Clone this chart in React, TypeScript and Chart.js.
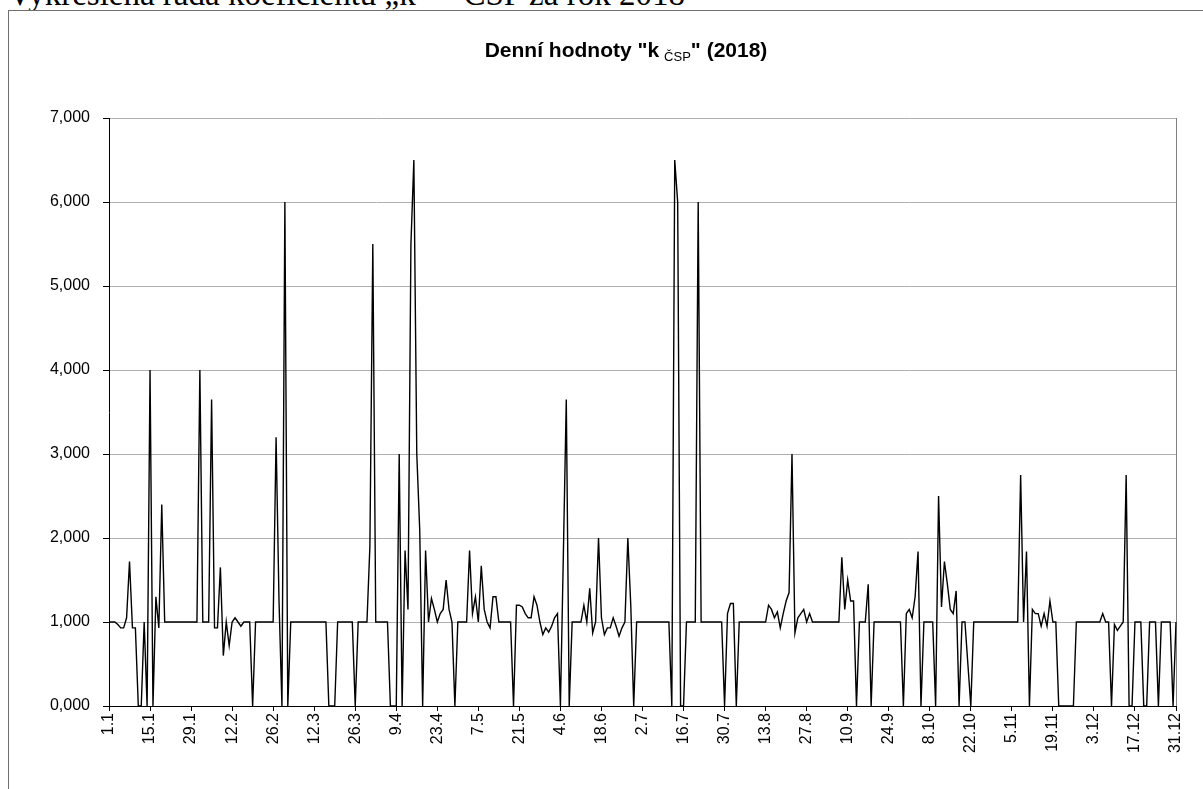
import React, { useEffect, useRef } from "react";
import { Chart, registerables } from "chart.js";

Chart.register(...registerables);

// ---- calendar / categories ----
const MONTH_LENGTHS = [31, 28, 31, 30, 31, 30, 31, 31, 30, 31, 30, 31];
const LABEL_STEP = 14;
const Y_MIN = 0;
const Y_MAX = 7;
const Y_STEP = 1;

// ---- daily values k_ČSP ----
const jan = [1, 1, 1, 0.97, 0.93, 0.93, 1.05, 1.72, 0.93, 0.93, 0, 0, 1, 0, 4.0, 0, 1.3, 0.93, 2.4, 1, 1, 1, 1, 1, 1, 1, 1, 1, 1, 1, 1];
const feb = [4.0, 1, 1, 1, 3.65, 0.93, 0.93, 1.65, 0.6, 1, 0.72, 1, 1.05, 1, 0.95, 1, 1, 1, 0, 1, 1, 1, 1, 1, 1, 1, 3.2, 1.25];
const mar = [0, 6.0, 0, 1, 1, 1, 1, 1, 1, 1, 1, 1, 1, 1, 1, 1, 0, 0, 0, 1, 1, 1, 1, 1, 1, 0, 1, 1, 1, 1, 1.9];
const apr = [5.5, 1, 1, 1, 1, 1, 0, 0, 0, 3.0, 0, 1.85, 1.15, 5.5, 6.5, 3.0, 2.1, 0, 1.85, 1, 1.28, 1.15, 1, 1.1, 1.15, 1.5, 1.15, 1, 0, 1];
const may = [1, 1, 1, 1.85, 1.1, 1.3, 1, 1.67, 1.15, 1, 0.93, 1.3, 1.3, 1, 1, 1, 1, 1, 0, 1.2, 1.2, 1.18, 1.1, 1.05, 1.05, 1.3, 1.2, 1, 0.85, 0.93, 0.88];
const jun = [0.95, 1.05, 1.1, 0, 1.8, 3.65, 0, 1, 1, 1, 1, 1.2, 1, 1.4, 0.87, 1, 2.0, 1.05, 0.85, 0.93, 0.93, 1.05, 0.95, 0.83, 0.93, 1, 2.0, 1.2, 0, 1];
const jul = [1, 1, 1, 1, 1, 1, 1, 1, 1, 1, 1, 0, 6.5, 6.0, 0, 0, 1, 1, 1, 1, 6.0, 1, 1, 1, 1, 1, 1, 1, 1, 0, 1.1];
const aug = [1.22, 1.22, 0, 1, 1, 1, 1, 1, 1, 1, 1, 1, 1, 1.2, 1.15, 1.05, 1.12, 0.93, 1.1, 1.25, 1.35, 3.0, 0.87, 1.05, 1.1, 1.15, 1, 1.1, 1, 1, 1];
const sep = [1, 1, 1, 1, 1, 1, 1, 1.77, 1.15, 1.5, 1.25, 1.25, 0, 1, 1, 1, 1.45, 0, 1, 1, 1, 1, 1, 1, 1, 1, 1, 1, 0, 1.1];
const oct = [1.15, 1.05, 1.3, 1.84, 0, 1, 1, 1, 1, 0, 2.5, 1.18, 1.72, 1.45, 1.15, 1.1, 1.37, 0, 1, 1, 0.5, 0, 1, 1, 1, 1, 1, 1, 1, 1, 1];
const nov = [1, 1, 1, 1, 1, 1, 1, 2.75, 1, 1.84, 0, 1.15, 1.1, 1.1, 0.95, 1.1, 0.95, 1.25, 1, 1, 0, 0, 0, 0, 0, 0, 1, 1, 1, 1];
const dec = [1, 1, 1, 1, 1, 1.1, 1, 1, 0, 0.97, 0.9, 0.95, 1, 2.75, 0, 0, 1, 1, 1, 0, 0, 1, 1, 1, 0, 1, 1, 1, 1, 0, 1];

const values: number[] = [...jan, ...feb, ...mar, ...apr, ...may, ...jun, ...jul, ...aug, ...sep, ...oct, ...nov, ...dec];

const categories: string[] = [];
MONTH_LENGTHS.forEach((len, m) => {
  for (let d = 1; d <= len; d++) categories.push(`${d}.${m + 1}`);
});

const SANS = '"Liberation Sans", Arial, Helvetica, sans-serif';

const titlePlugin = {
  id: "subscriptTitle",
  afterDraw(chart: any) {
    const ctx = chart.ctx as CanvasRenderingContext2D;
    ctx.save();
    const main = `bold 21px ${SANS}`;
    const sub = `13px ${SANS}`;
    const p1 = 'Denní hodnoty "k';
    const p2 = "ČSP";
    const p3 = '" (2018)';
    ctx.font = main;
    const w1 = ctx.measureText(p1).width;
    const w3 = ctx.measureText(p3).width;
    ctx.font = sub;
    const w2 = ctx.measureText(p2).width;
    const gap = 5;
    const total = w1 + gap + w2 + w3;
    let x = 617 - total / 2;
    const y = 46;
    ctx.fillStyle = "#000";
    ctx.textAlign = "left";
    ctx.textBaseline = "alphabetic";
    ctx.font = main;
    ctx.fillText(p1, x, y);
    x += w1 + gap;
    ctx.font = sub;
    ctx.fillText(p2, x, y + 4);
    x += w2;
    ctx.font = main;
    ctx.fillText(p3, x, y);
    ctx.restore();
  },
};

const frameRightPlugin = {
  id: "plotRightBorder",
  beforeDatasetsDraw(chart: any) {
    const { ctx, chartArea } = chart;
    ctx.save();
    ctx.strokeStyle = "#808080";
    ctx.lineWidth = 1;
    const x = Math.round(chartArea.right) + 0.5;
    ctx.beginPath();
    ctx.moveTo(x, chartArea.top);
    ctx.lineTo(x, chartArea.bottom);
    ctx.stroke();
    ctx.restore();
  },
};

export default function App() {
  const ref = useRef<HTMLCanvasElement>(null);

  useEffect(() => {
    const canvas = ref.current;
    if (!canvas) return;
    const chart = new Chart(canvas, {
      type: "line",
      data: {
        labels: categories,
        datasets: [
          {
            data: values,
            borderColor: "#000",
            borderWidth: 1.4,
            pointRadius: 0,
            pointHoverRadius: 0,
            tension: 0,
            fill: false,
          },
        ],
      },
      options: {
        animation: false,
        responsive: false,
        devicePixelRatio: 1,
        layout: { padding: { left: 0, top: 107, right: 27, bottom: 33 } },
        plugins: {
          legend: { display: false },
          tooltip: { enabled: false },
          title: { display: false },
        },
        scales: {
          x: {
            type: "category",
            offset: false,
            grid: { drawOnChartArea: false, drawTicks: true, tickLength: 5, color: "#000", tickColor: "#000" },
            border: { display: true, color: "#000", width: 1 },
            ticks: {
              autoSkip: false,
              maxRotation: 90,
              minRotation: 90,
              padding: 2,
              color: "#000",
              font: { family: SANS, size: 16 },
            },
            afterBuildTicks: (axis: any) => {
              axis.ticks = axis.ticks.filter((t: any) => t.value % LABEL_STEP === 0);
            },
            afterFit: (axis: any) => {
              axis.height = 50;
            },
          },
          y: {
            min: Y_MIN,
            max: Y_MAX,
            grid: { color: "#b0b0b0", tickColor: "#000", tickLength: 6, drawTicks: true },
            border: { display: true, color: "#000", width: 1 },
            ticks: {
              stepSize: Y_STEP,
              padding: 13,
              color: "#000",
              font: { family: SANS, size: 16 },
              callback: (v: any) => Number(v).toFixed(3).replace(".", ","),
            },
            afterFit: (axis: any) => {
              axis.width = 100;
            },
          },
        },
      } as any,
      plugins: [titlePlugin, frameRightPlugin],
    });
    return () => chart.destroy();
  }, []);

  return (
    <div
      style={{
        position: "fixed",
        left: 0,
        top: 0,
        width: 1203,
        height: 789,
        overflow: "hidden",
        background: "#fff",
      }}
    >
      <div
        style={{
          position: "absolute",
          left: 8,
          top: -22,
          fontFamily: '"Liberation Serif", "Times New Roman", serif',
          fontSize: 33,
          lineHeight: "33px",
          whiteSpace: "nowrap",
          color: "#000",
        }}
      >
        Vykreslená řada koeficientu „k“ – ČSP za rok 2018
      </div>
      <div
        style={{
          position: "absolute",
          left: 8,
          top: 10,
          width: 1300,
          height: 900,
          background: "#fff",
          borderLeft: "1px solid #707070",
          borderTop: "1px solid #707070",
        }}
      />
      <div style={{ position: "absolute", left: 9, top: 11, width: 1194, height: 778 }}>
        <canvas ref={ref} width={1194} height={778} style={{ display: "block", width: 1194, height: 778 }} />
      </div>
    </div>
  );
}
